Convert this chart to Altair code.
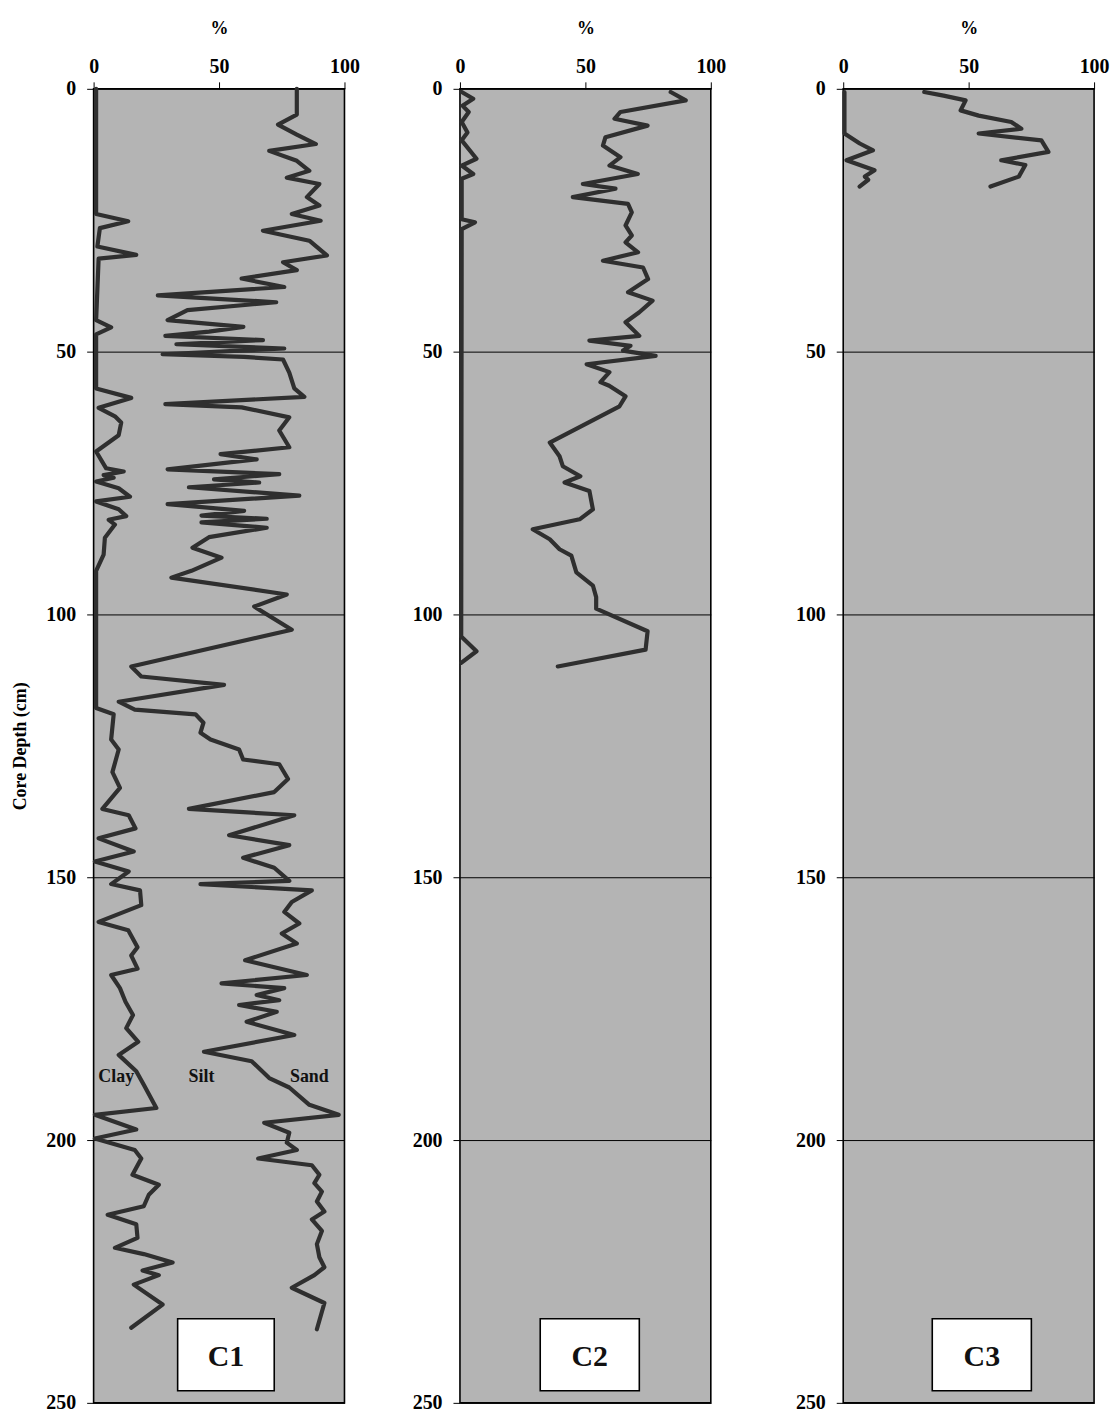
import altair as alt
import pandas as pd

# ---------------- data ----------------
# C1: clay line (depth cm, %)
c1_clay_depth = [0, 23.8, 25.2, 26.5, 30, 31.6, 32.3, 44, 45.4, 46.7, 57, 58.8, 60.7, 62.3, 63.5,
                 65.9, 69, 72.2, 72.8, 73.5, 74, 74.7, 76, 77.6, 78.5, 80, 81.3, 82, 82.9, 85.4,
                 88.6, 91.7, 117.8, 119, 123.8, 125.7, 130, 133, 137, 138.2, 140.7, 142.6, 145.1,
                 147, 148.9, 151.3, 152.5, 155.3, 158.5, 160.1, 163.3, 164.9, 167.4, 168.6, 171.1,
                 173.7, 176.2, 178.7, 181.3, 183.8, 186.9, 189.5, 193.9, 195.2, 198, 199.7, 201.9,
                 203.5, 206.6, 208.5, 210.4, 212.6, 214.2, 216, 218.6, 220.5, 221.7, 223.3, 224.8,
                 225.7, 227.5, 231.3, 235.7]
c1_clay = [1, 1, 13.8, 2.5, 1.5, 17, 2, 1, 7, 1, 1, 15, 2, 8.5, 11,
           10, 1, 5, 12, 4, 8, 1, 10, 14.5, 1, 10, 13, 6, 8.5, 4.5,
           4, 1, 1, 8, 7, 10, 7.5, 10.5, 3.5, 14, 16.7, 2, 16,
           0.5, 14, 7, 18.5, 19, 2, 13.8, 17.5, 15, 17.5, 7, 10.5,
           12.7, 15.7, 13, 17.8, 10, 17, 20, 25, 0.5, 17, 0.5, 16.4,
           19, 15.5, 26, 22, 20, 5.6, 17, 17.5, 8.5, 20, 31.5, 19.5,
           26, 16, 27.5, 15]
# C1: clay + silt line (silt / sand boundary)
c1_cum_depth = [0, 4.9, 6.8, 8.7, 10.5, 11.8, 13.7, 15.6, 16.9, 18.1, 20.6, 22.2, 23.8, 25.1, 27,
                28.9, 31.7, 33, 34.5, 36.1, 37.7, 39.3, 40.6, 42.1, 44, 45.3, 46.2, 47, 47.8, 48.6,
                49.4, 50.5, 51, 51.5, 54, 57, 58.6, 60, 60.6, 62.5, 65, 68.2, 69.5, 70.5, 72.4,
                73.3, 74.3, 74.9, 75.8, 77.4, 79, 80.3, 81.2, 81.8, 82.5, 83.5, 85.3, 87.3, 89.2,
                91.7, 93, 96.2, 98.5, 102.9, 109.9, 111.8, 113.4, 116.6, 118.1, 119, 120.6, 122.5,
                123.8, 125.7, 127.6, 128.5, 131.3, 133.8, 137, 138.2, 142, 143.9, 146.3, 148.2,
                150.7, 151.3, 152.5, 154.7, 156.6, 158.8, 160.7, 162.6, 165.8, 168.6, 170.2, 171.1,
                172.4, 173.4, 174.3, 175.6, 177.5, 180, 183.2, 185, 188.2, 190, 193.3, 195.2, 196.7,
                198.6, 200.5, 201.9, 203.5, 204.8, 206.6, 208.2, 209.8, 211.7, 213.6, 215.1, 217.3,
                219.8, 222.3, 224.2, 225.7, 228.1, 231, 236]
c1_cum = [81, 81, 73.5, 81, 88.6, 70, 81, 86, 77, 90, 85, 90, 79, 90.5, 67.5,
          86, 93, 75.5, 81, 59, 76, 25.6, 72.8, 37.4, 29.5, 59.7, 46, 28.6, 67.5, 33,
          76, 27.5, 60, 75.5, 78, 80, 84, 28.6, 59, 78, 74, 78, 50.6, 65, 29.5,
          74, 48, 66, 38, 82, 29.5, 60, 43, 69, 43, 69, 46, 39.4, 51,
          39, 31, 77, 64, 79, 15, 19, 52, 10, 16.4, 40.6, 43.8, 42.6,
          46.6, 58, 59.6, 74, 77.5, 72, 38, 80, 54, 78, 59.6, 72,
          78, 42.6, 87, 79, 76, 82, 75, 81, 60.4, 85, 51, 76,
          65, 74, 58, 73, 61, 80, 44, 63, 70, 78, 86, 97.7, 68,
          78, 77, 81, 65.6, 87, 90, 88, 91, 89, 92, 87, 91,
          89, 90, 92, 88, 79, 92, 89]

# C2
c2_clay_depth = [0.6, 1.9, 3.2, 4.4, 6.3, 8.3, 9.8, 13.3, 14.6, 16.2, 17.1, 24.8, 25.4, 26.7,
                 104.2, 107, 109.2]
c2_clay = [0.7, 5.3, 1, 3.5, 0.7, 3, 0.7, 6.6, 0.7, 5.3, 0.7, 0.7, 6, 0.7,
           0.5, 6.6, 0.5]
c2_cum_depth = [0.6, 2.2, 4.4, 5.7, 7.0, 9.2, 10.8, 13, 14.6, 16.2, 18.1, 19, 20.6, 21.9, 23.5,
                26, 27.9, 29.2, 31.1, 32.7, 34, 36.2, 38.7, 40.3, 42.5, 44.4, 47, 47.9, 48.9,
                49.8, 50.8, 52.4, 53.9, 55.8, 56.5, 58.5, 60.4, 67.3, 69.9, 71.8, 73.7, 74.9,
                76.5, 80, 81.9, 83.8, 85.7, 87.6, 88.8, 92, 94.5, 96.7, 98.9, 103.2, 106.7, 109.9]
c2_cum = [84, 90, 64, 61.6, 74.8, 58, 57, 64, 59.6, 70.9, 49, 62, 45, 67, 68.5,
          66, 68.5, 66, 71, 57, 73, 75, 67, 76.8, 71.5, 66, 71.5, 51.6, 68,
          65, 78, 50.5, 59.6, 56, 59.5, 66, 63.6, 35.8, 39.7, 41, 48, 41.7,
          51.6, 53, 47.7, 29, 35.8, 39.7, 44.4, 46.4, 53, 54.3, 54.3, 74.8, 74, 39]

# C3
c3_clay_depth = [0.6, 8.5, 10.4, 11.7, 13.6, 15.5, 16.7, 17.3, 18.6]
c3_clay = [0.5, 0.5, 6.6, 11.9, 1.3, 12.5, 8.6, 10, 6.5]
c3_cum_depth = [0.6, 1.3, 2.2, 4.1, 5.1, 6.3, 7.6, 8.5, 9.8, 12, 13.6, 14.5, 16.7, 18.6]
c3_cum = [32.3, 40, 48.8, 46.8, 54, 67, 71, 54, 79, 81.8, 63, 72.6, 70, 58.7]

# text labels
fraction_names = ["Clay", "Silt", "Sand"]
fraction_pct = [9, 43, 86]
fraction_depth = [188, 188, 188]
core_names = ["C1", "C2", "C3"]

# ---------------- chart ----------------
FONT = "Liberation Serif"
LINE = "#2f2f2f"
W, H = 252, 1320


def frame(depths, values, series):
    return pd.DataFrame({"depth": depths, "pct": values, "series": series})


def axes(y_title, ghost_title=False):
    xa = alt.Axis(orient="top", values=[0, 50, 100], title="%", grid=False, domain=False,
                  tickSize=7, tickColor="black", tickWidth=1, labelFlush=False,
                  labelFont=FONT, labelFontSize=20, labelFontWeight="bold", labelColor="black",
                  labelPadding=5, titleFont=FONT, titleFontSize=18, titleFontWeight="bold",
                  titleColor="black", titlePadding=20)
    ykw = dict(values=[0, 50, 100, 150, 200, 250], grid=True, gridColor="black", gridWidth=1,
               gridOpacity=1, domain=False, tickSize=7, tickColor="black", tickWidth=1,
               labelFlush=False, labelOverlap=False, labelFont=FONT, labelFontSize=20,
               labelFontWeight="bold", labelColor="black", labelPadding=11)
    if y_title:
        ya = alt.Axis(title=y_title, titleFont=FONT, titleFontSize=18, titleFontWeight="bold",
                      titleColor="black", titlePadding=16, **ykw)
    elif ghost_title:
        # invisible title, only to widen the gap in front of this panel
        ya = alt.Axis(title="|", titleFont=FONT, titleFontSize=15, titleOpacity=0,
                      titlePadding=2, **ykw)
    else:
        ya = alt.Axis(title=None, **ykw)
    return xa, ya


def panel(name, clay_d, clay_v, cum_d, cum_v, y_title, box_lo, box_hi, labels=False,
          ghost_title=False):
    xa, ya = axes(y_title, ghost_title)
    xs = alt.Scale(domain=[0, 100], nice=False, zero=False)
    ys = alt.Scale(domain=[0, 250], reverse=True, nice=False, zero=False)
    df = pd.concat([frame(clay_d, clay_v, "clay"), frame(cum_d, cum_v, "cum")])

    lines = alt.Chart(df).mark_line(color=LINE, strokeWidth=4.2, strokeJoin="round",
                                    strokeCap="round").encode(
        x=alt.X("pct:Q", scale=xs, axis=xa),
        y=alt.Y("depth:Q", scale=ys, axis=ya),
        detail="series:N",
        order=alt.Order("depth:Q"),
    )

    box_df = pd.DataFrame({"pct": [box_lo], "pct2": [box_hi], "depth": [234], "depth2": [247.7],
                           "name": [name], "mid": [(box_lo + box_hi) / 2], "dmid": [241.2]})
    box = alt.Chart(box_df).mark_rect(fill="white", stroke="black", strokeWidth=1.6).encode(
        x=alt.X("pct:Q", scale=xs, axis=xa), x2="pct2:Q",
        y=alt.Y("depth:Q", scale=ys, axis=ya), y2="depth2:Q",
    )
    box_text = alt.Chart(box_df).mark_text(font=FONT, fontSize=30, fontWeight="bold",
                                           color="#111111", baseline="middle",
                                           align="center").encode(
        x=alt.X("mid:Q", scale=xs, axis=xa),
        y=alt.Y("dmid:Q", scale=ys, axis=ya),
        text="name:N",
    )
    layers = []
    if labels:
        lab_df = pd.DataFrame({"pct": fraction_pct, "depth": fraction_depth,
                               "name": fraction_names})
        lab = alt.Chart(lab_df).mark_text(font=FONT, fontSize=18, fontWeight="bold",
                                          color="#111111", baseline="middle",
                                          align="center").encode(
            x=alt.X("pct:Q", scale=xs, axis=xa),
            y=alt.Y("depth:Q", scale=ys, axis=ya),
            text="name:N",
        )
        layers.append(lab)
    layers += [lines, box, box_text]
    return alt.layer(*layers).properties(width=W, height=H)


p1 = panel(core_names[0], c1_clay_depth, c1_clay, c1_cum_depth, c1_cum, "Core Depth (cm)",
           33.5, 72, labels=True)
p2 = panel(core_names[1], c2_clay_depth, c2_clay, c2_cum_depth, c2_cum, None, 32, 71.5)
p3 = panel(core_names[2], c3_clay_depth, c3_clay, c3_cum_depth, c3_cum, None, 35.5, 75,
           ghost_title=True)

chart = alt.hconcat(p1, p2, p3, spacing=51).properties(
    padding={"left": 3, "top": 7, "right": 0, "bottom": -3},
    background="white",
).configure_view(
    fill="#b4b4b4", stroke="black", strokeWidth=1.6,
)

chart.save("out.html", embed_options={"renderer": "svg", "actions": False})
